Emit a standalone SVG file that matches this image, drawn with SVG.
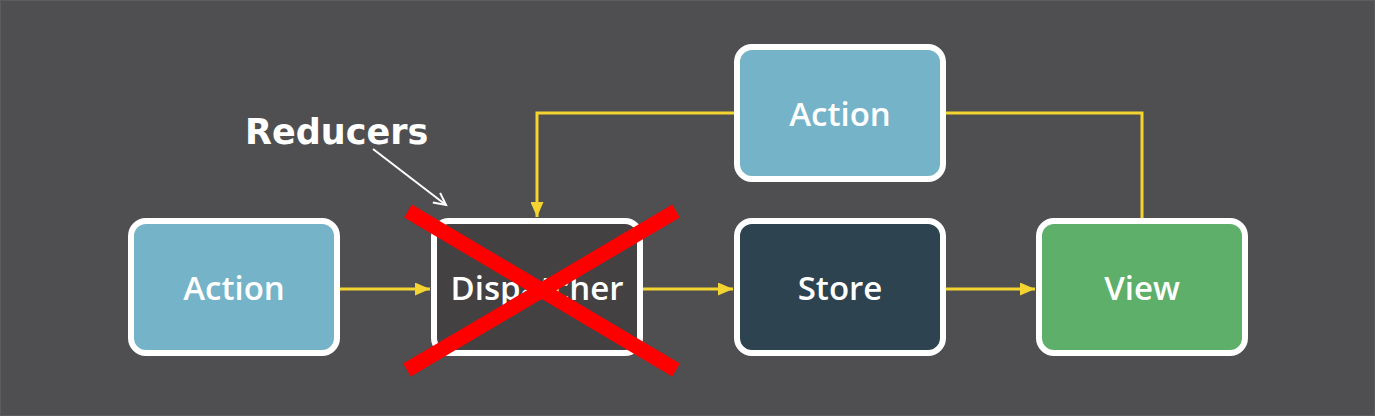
<svg xmlns="http://www.w3.org/2000/svg" width="1375" height="416" viewBox="0 0 1375 416">
<style>
.box{stroke:#ffffff;stroke-width:6}
.lbl{font-family:"Open Sans","Liberation Sans",sans-serif;font-weight:600;font-size:33px;fill:#ffffff;text-anchor:middle}
.conn{stroke:#f4d430;stroke-width:3;fill:none}
</style>
<defs>
<marker id="ya" markerUnits="userSpaceOnUse" markerWidth="15" markerHeight="13" refX="15" refY="6.5" orient="auto">
<path d="M0,0 L15,6.5 L0,13 z" fill="#f4d430"/>
</marker>
<marker id="wa" markerUnits="userSpaceOnUse" markerWidth="16" markerHeight="16" refX="13" refY="8" orient="auto">
<path d="M1,2 L13,8 L1,14" fill="none" stroke="#ffffff" stroke-width="2"/>
</marker>
</defs>
<rect x="0.5" y="0.5" width="1374" height="415" fill="#4f4f51" stroke="#5c5c5e" stroke-width="1"/>
<g id="connectors">
<line class="conn" x1="340" y1="289" x2="430" y2="289" marker-end="url(#ya)"/>
<line class="conn" x1="643" y1="289" x2="733" y2="289" marker-end="url(#ya)"/>
<line class="conn" x1="946" y1="289" x2="1035" y2="289" marker-end="url(#ya)"/>
<polyline class="conn" points="734,113 537,113 537,217" marker-end="url(#ya)"/>
<polyline class="conn" points="946,113 1142,113 1142,218"/>
</g>
<g id="node-action1">
<rect class="box" x="131" y="221" width="206" height="132" rx="15" fill="#75b3c8"/>
<text class="lbl" x="234" y="300">Action</text>
</g>
<g id="node-dispatcher">
<rect class="box" x="434" y="221" width="206" height="132" rx="15" fill="#434142"/>
<text class="lbl" x="537" y="300">Dispatcher</text>
</g>
<g id="node-store">
<rect class="box" x="737" y="221" width="206" height="132" rx="15" fill="#2d4350"/>
<text class="lbl" x="840" y="300">Store</text>
</g>
<g id="node-view">
<rect class="box" x="1039" y="221" width="206" height="132" rx="15" fill="#5daf6a"/>
<text class="lbl" x="1142" y="300">View</text>
</g>
<g id="node-action2">
<rect class="box" x="737" y="47" width="206" height="132" rx="15" fill="#75b3c8"/>
<text class="lbl" x="840" y="126">Action</text>
</g>
<g id="reducers-note">
<text x="245" y="144" font-family="DejaVu Sans,sans-serif" font-weight="bold" font-size="35" fill="#ffffff">Reducers</text>
<line x1="373" y1="149" x2="446" y2="205" stroke="#ffffff" stroke-width="2" marker-end="url(#wa)"/>
</g>
<g id="cross">
<line x1="408" y1="211" x2="676" y2="370" stroke="#ff0000" stroke-width="15"/>
<line x1="407" y1="370" x2="676" y2="211" stroke="#ff0000" stroke-width="15"/>
</g>
</svg>
